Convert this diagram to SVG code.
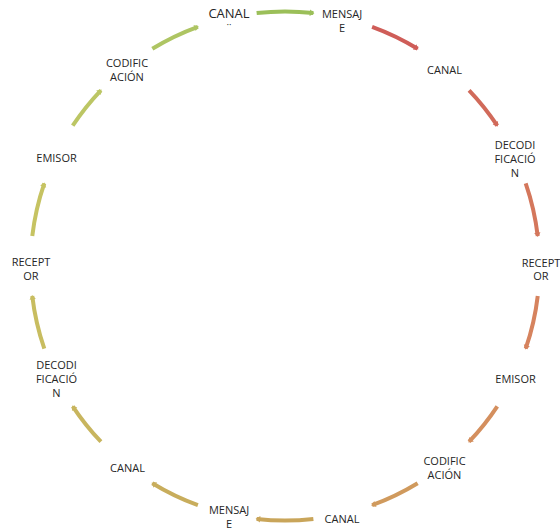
<svg xmlns="http://www.w3.org/2000/svg" xmlns:xlink="http://www.w3.org/1999/xlink" width="560" height="529" viewBox="0 0 560 529">
<style>
text{font-family:"Open Sans","Liberation Sans",sans-serif;font-size:11px;fill:#262626;text-anchor:middle}
.big{font-size:13px}
.arc{fill:none;stroke-width:4}
.head{stroke:none}
</style>
<defs>
<g id="a64"><path class="arc" d="M256.63,13.09 A254.5,254.5 0 0 1 313.37,13.09"/><polygon class="head" points="286,11.5 281.5,8.3 281.5,14.7" transform="rotate(6.4 285 266)"/></g>
<g id="a57"><path class="arc" d="M259.72,12.76 A254.5,254.5 0 0 1 310.28,12.76"/><polygon class="head" points="286,11.5 281.5,8.3 281.5,14.7" transform="rotate(5.7 285 266)"/></g>
<g id="a51"><path class="arc" d="M262.38,12.51 A254.5,254.5 0 0 1 307.62,12.51"/><polygon class="head" points="286,11.5 281.5,8.3 281.5,14.7" transform="rotate(5.1 285 266)"/></g>
<g id="a61"><path class="arc" d="M257.96,12.94 A254.5,254.5 0 0 1 312.04,12.94"/><polygon class="head" points="286,11.5 281.5,8.3 281.5,14.7" transform="rotate(6.1 285 266)"/></g>
</defs>
<g id="connectors">
<use xlink:href="#a64" href="#a64" stroke="#9BBF59" fill="#9BBF59"/>
<use xlink:href="#a57" href="#a57" stroke="#CF5D58" fill="#CF5D58" transform="rotate(25.714 285 266)"/>
<use xlink:href="#a51" href="#a51" stroke="#D16A5A" fill="#D16A5A" transform="rotate(51.429 285 266)"/>
<use xlink:href="#a61" href="#a61" stroke="#D4775C" fill="#D4775C" transform="rotate(77.143 285 266)"/>
<use xlink:href="#a61" href="#a61" stroke="#D6835E" fill="#D6835E" transform="rotate(102.857 285 266)"/>
<use xlink:href="#a51" href="#a51" stroke="#D48F5E" fill="#D48F5E" transform="rotate(128.571 285 266)"/>
<use xlink:href="#a57" href="#a57" stroke="#D09A5D" fill="#D09A5D" transform="rotate(154.286 285 266)"/>
<use xlink:href="#a64" href="#a64" stroke="#C9A55A" fill="#C9A55A" transform="rotate(180 285 266)"/>
<use xlink:href="#a57" href="#a57" stroke="#C8AD5C" fill="#C8AD5C" transform="rotate(205.714 285 266)"/>
<use xlink:href="#a51" href="#a51" stroke="#C8B55E" fill="#C8B55E" transform="rotate(231.429 285 266)"/>
<use xlink:href="#a61" href="#a61" stroke="#C8BD60" fill="#C8BD60" transform="rotate(257.143 285 266)"/>
<use xlink:href="#a61" href="#a61" stroke="#C6C362" fill="#C6C362" transform="rotate(282.857 285 266)"/>
<use xlink:href="#a51" href="#a51" stroke="#BCC664" fill="#BCC664" transform="rotate(308.571 285 266)"/>
<use xlink:href="#a57" href="#a57" stroke="#AEC563" fill="#AEC563" transform="rotate(334.286 285 266)"/>
</g>
<g id="n1"><text class="big" x="229" y="17.5">CANAL</text><text class="big" x="229" y="33">¨</text></g>
<g id="n2"><text x="342" y="18">MENSAJ</text><text x="342" y="32">E</text></g>
<g id="n3"><text x="444.5" y="74">CANAL</text></g>
<g id="n4"><text x="515" y="149">DECODI</text><text x="515" y="163">FICACIÓ</text><text x="515" y="177">N</text></g>
<g id="n5"><text x="541" y="267">RECEPT</text><text x="541" y="280">OR</text></g>
<g id="n6"><text x="515.5" y="383">EMISOR</text></g>
<g id="n7"><text x="444.5" y="465">CODIFIC</text><text x="444.5" y="479">ACIÓN</text></g>
<g id="n8"><text x="342" y="523">CANAL</text></g>
<g id="n9"><text x="229" y="514">MENSAJ</text><text x="229" y="528">E</text></g>
<g id="n10"><text x="127.5" y="472">CANAL</text></g>
<g id="n11"><text x="56.5" y="369">DECODI</text><text x="56.5" y="383">FICACIÓ</text><text x="56.5" y="397">N</text></g>
<g id="n12"><text x="31" y="266">RECEPT</text><text x="31" y="280">OR</text></g>
<g id="n13"><text x="56.5" y="162">EMISOR</text></g>
<g id="n14"><text x="127" y="67">CODIFIC</text><text x="127" y="81">ACIÓN</text></g>
</svg>
